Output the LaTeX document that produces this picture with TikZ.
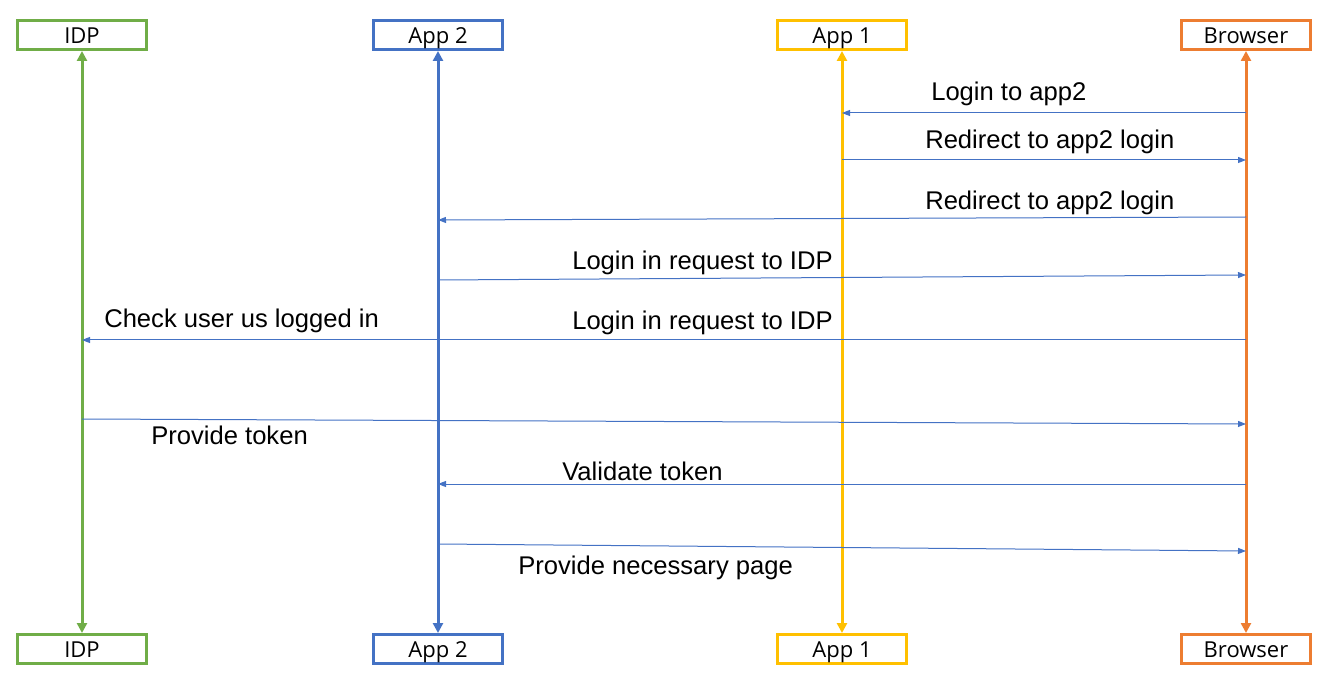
\documentclass[tikz,border=0pt]{standalone}
\usepackage{fontspec}
\setmainfont{Liberation Sans}
\newfontfamily\boxfont{Open Sans}
\usetikzlibrary{calc}
\usetikzlibrary{positioning,arrows.meta}

\definecolor{idpgreen}{HTML}{70AD47}
\definecolor{apptwoblue}{HTML}{4472C4}
\definecolor{apponeyellow}{HTML}{FFC000}
\definecolor{broworange}{HTML}{ED7D31}
\definecolor{msgblue}{HTML}{4472C4}

\begin{document}
\begin{tikzpicture}[
        x=0.75pt,y=-0.75pt,
        BoxCfg/.style={
            draw,
            line width=2.25pt,
            minimum width=96.75pt,
            minimum height=21.75pt,
            inner sep=0pt,
            text height=14pt,
            text depth=1.2pt,
            font=\boxfont\fontsize{16.5}{20}\selectfont
        },
        LifeCfg/.style={
            line width=2.25pt,
            {Triangle[length=7.5pt,width=7.5pt]}-{Triangle[length=7.5pt,width=7.5pt]}
        },
        MsgCfg/.style={
            draw=msgblue,
            line width=0.75pt,
            -{Triangle[length=6pt,width=4.5pt]}
        },
        MsgText/.style={
            anchor=base west,
            inner sep=0pt,
            font=\fontsize{19.2}{23}\selectfont
        }
    ]
    \useasboundingbox (0,0) rectangle (1322,677);

    % participants top
    \node[BoxCfg,draw=idpgreen] (idpT) at (82,35) {IDP};
    \node[BoxCfg,draw=apptwoblue] (atwoT) at (438,35) {App 2};
    \node[BoxCfg,draw=apponeyellow] (aoneT) at (842,35) {App 1};
    \node[BoxCfg,draw=broworange] (brT) at (1246,35) {Browser};

    % participants bottom
    \node[BoxCfg,draw=idpgreen] (idpB) at (82,649) {IDP};
    \node[BoxCfg,draw=apptwoblue] (atwoB) at (438,649) {App 2};
    \node[BoxCfg,draw=apponeyellow] (aoneB) at (842,649) {App 1};
    \node[BoxCfg,draw=broworange] (brB) at (1246,649) {Browser};

    % lifelines
    \draw[LifeCfg,idpgreen] (idpT.south)--(idpB.north);
    \draw[LifeCfg,apptwoblue] (atwoT.south)--(atwoB.north);
    \draw[LifeCfg,apponeyellow] (aoneT.south)--(aoneB.north);
    \draw[LifeCfg,broworange] (brT.south)--(brB.north);

    % message end points
    \coordinate (M1a) at (brT |- 0,113);
    \coordinate (M1b) at (aoneT |- 0,113);
    \coordinate (M2a) at (aoneT |- 0,160);
    \coordinate (M2b) at (brT |- 0,160);
    \coordinate (M3a) at (brT |- 0,217);
    \coordinate (M3b) at (atwoT |- 0,220);
    \coordinate (M4a) at (atwoT |- 0,280);
    \coordinate (M4b) at (brT |- 0,275);
    \coordinate (M5a) at (brT |- 0,340);
    \coordinate (M5b) at (idpT |- 0,340);
    \coordinate (M6a) at (idpT |- 0,419);
    \coordinate (M6b) at (brT |- 0,424);
    \coordinate (M7a) at (brT |- 0,484);
    \coordinate (M7b) at (atwoT |- 0,484);
    \coordinate (M8a) at (atwoT |- 0,544);
    \coordinate (M8b) at (brT |- 0,551);

    % messages
    \draw[MsgCfg] (M1a)--(M1b);
    \draw[MsgCfg] (M2a)--(M2b);
    \draw[MsgCfg] (M3a)--(M3b);
    \draw[MsgCfg] (M4a)--(M4b);
    \draw[MsgCfg] (M5a)--(M5b);
    \draw[MsgCfg] (M6a)--(M6b);
    \draw[MsgCfg] (M7a)--(M7b);
    \draw[MsgCfg] (M8a)--(M8b);

    % message labels
    \node[MsgText] (L1) at (931,101) {Login to app2};
    \node[MsgText] (L2) at (925,149) {Redirect to app2 login};
    \node[MsgText] (L3) at (925,210) {Redirect to app2 login};
    \node[MsgText] (L4) at (572,270) {Login in request to IDP};
    \node[MsgText] (L5) at (104,328) {Check user us logged in};
    \node[MsgText] (L6) at (572,330) {Login in request to IDP};
    \node[MsgText] (L7) at (151,445) {Provide token};
    \node[MsgText] (L8) at (562,480) {Validate token};
    \node[MsgText] (L9) at (518,574) {Provide necessary page};

\end{tikzpicture}
\end{document}
